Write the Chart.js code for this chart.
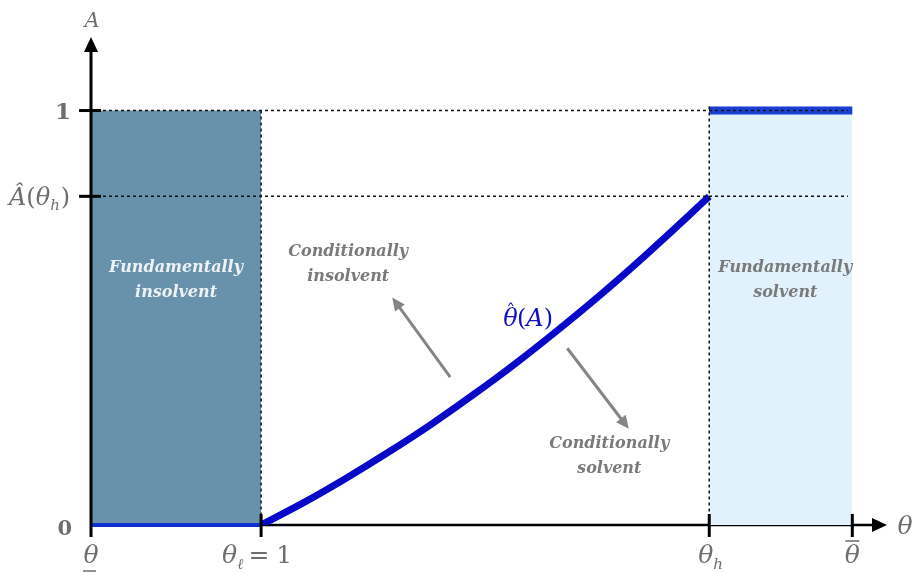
<!DOCTYPE html>
<html>
<head>
<meta charset="utf-8">
<script src="https://cdn.jsdelivr.net/npm/chart.js@4.4.1/dist/chart.umd.min.js"></script>
<style>
  html, body { margin: 0; padding: 0; background: #fff; }
  #wrap { width: 914px; height: 573px; }
</style>
</head>
<body>
<div id="wrap"><canvas id="chart"></canvas></div>
<script>
// key positions on the theta axis and the A axis
const thetaLow = 0;       // underline theta
const thetaL = 1;         // theta_l = 1
const thetaH = 3.635;     // theta_h
const thetaHigh = 4.476;  // overline theta
const aHat = 0.793;       // A-hat(theta_h)

// theta-hat(A) curve
const curveX = [1, 1.25, 1.5, 1.75, 2, 2.25, 2.5, 2.75, 3, 3.25, 3.5, 3.635];
const curveY = [0, 0.054, 0.113, 0.176, 0.243, 0.315, 0.391, 0.472, 0.557, 0.647, 0.741, 0.793];

const curvePts = curveX.map((x, i) => ({ x: x, y: curveY[i] }));

const gray = '#6e6e6e';
const serif = '"DejaVu Serif", "Liberation Serif", serif';

const annotations = {
    id: 'annotations',
    beforeDatasetsDraw(chart) {
        const ctx = chart.ctx;
        const xs = chart.scales.x, ys = chart.scales.y;
        ctx.save();
        ctx.strokeStyle = '#000';
        ctx.lineWidth = 2.5;
        ctx.beginPath();
        ctx.moveTo(xs.getPixelForValue(0), ys.getPixelForValue(0));
        ctx.lineTo(xs.right - 12, ys.getPixelForValue(0));
        ctx.stroke();
        ctx.restore();
    },
    afterDatasetsDraw(chart) {
        const ctx = chart.ctx;
        const xs = chart.scales.x, ys = chart.scales.y;
        const px = v => xs.getPixelForValue(v);
        const py = v => ys.getPixelForValue(v);
        ctx.save();

        // dotted guide lines
        ctx.strokeStyle = '#111';
        ctx.lineWidth = 1.5;
        ctx.setLineDash([3, 3]);
        const dash = (x1, y1, x2, y2) => {
            ctx.beginPath();
            ctx.moveTo(px(x1), py(y1));
            ctx.lineTo(px(x2), py(y2));
            ctx.stroke();
        };
        dash(0, 1, 4.45, 1);
        dash(0, aHat, 4.45, aHat);
        dash(thetaL, 1, thetaL, 0);
        dash(thetaH, 1.01, thetaH, 0);
        ctx.setLineDash([]);

        // y axis with arrow
        const x0 = px(0), y0 = py(0);
        ctx.strokeStyle = '#000';
        ctx.fillStyle = '#000';
        ctx.lineWidth = 3;
        ctx.beginPath();
        ctx.moveTo(x0, y0 + 12);
        ctx.lineTo(x0, ys.top + 10);
        ctx.stroke();
        ctx.beginPath();
        ctx.moveTo(x0, ys.top - 1);
        ctx.lineTo(x0 - 7, ys.top + 14);
        ctx.lineTo(x0 + 7, ys.top + 14);
        ctx.closePath();
        ctx.fill();

        // x axis arrow head
        ctx.beginPath();
        ctx.moveTo(xs.right, y0);
        ctx.lineTo(xs.right - 15, y0 - 7);
        ctx.lineTo(xs.right - 15, y0 + 7);
        ctx.closePath();
        ctx.fill();

        // tick marks
        ctx.lineWidth = 3;
        [1, aHat].forEach(v => {
            ctx.beginPath();
            ctx.moveTo(x0 - 12, py(v));
            ctx.lineTo(x0 + 10, py(v));
            ctx.stroke();
        });
        [thetaL, thetaH, thetaHigh].forEach(v => {
            ctx.beginPath();
            ctx.moveTo(px(v), y0 - 11);
            ctx.lineTo(px(v), y0 + 12);
            ctx.stroke();
        });

        // axis titles
        ctx.fillStyle = gray;
        ctx.textBaseline = 'alphabetic';
        ctx.textAlign = 'center';
        ctx.font = 'italic 21px ' + serif;
        ctx.fillText('A', x0 + 1, 27);
        ctx.font = 'italic 25px ' + serif;
        ctx.fillText('θ', xs.right + 18, y0 + 9);

        // y tick labels
        ctx.textAlign = 'right';
        ctx.font = 'bold 23px ' + serif;
        ctx.fillText('1', 71, py(1) + 8);
        ctx.font = 'bold 21px ' + serif;
        ctx.fillText('0', 72, y0 + 10);

        // A-hat(theta_h)
        ctx.textAlign = 'left';
        let tx = 9, ty = py(aHat) + 9;
        ctx.font = 'italic 24px ' + serif;
        ctx.fillText('Â', tx, ty);
        tx += ctx.measureText('Â').width;
        ctx.font = '24px ' + serif;
        ctx.fillText('(', tx, ty);
        tx += ctx.measureText('(').width;
        ctx.font = 'italic 24px ' + serif;
        ctx.fillText('θ', tx, ty);
        tx += ctx.measureText('θ').width;
        ctx.font = 'italic 15px ' + serif;
        ctx.fillText('h', tx, ty + 5);
        tx += ctx.measureText('h').width + 1;
        ctx.font = '24px ' + serif;
        ctx.fillText(')', tx, ty);

        // x tick labels
        const ly = y0 + 38;
        ctx.textAlign = 'center';
        ctx.font = 'italic 25px ' + serif;
        ctx.fillText('θ', px(thetaLow), ly);
        ctx.lineWidth = 1.5;
        ctx.strokeStyle = gray;
        ctx.beginPath();
        ctx.moveTo(px(thetaLow) - 8, ly + 8);
        ctx.lineTo(px(thetaLow) + 5, ly + 8);
        ctx.stroke();

        ctx.textAlign = 'left';
        tx = px(thetaL) - 39;
        ctx.font = 'italic 25px ' + serif;
        ctx.fillText('θ', tx, ly);
        tx += ctx.measureText('θ').width;
        ctx.font = 'italic 15px ' + serif;
        ctx.fillText('ℓ', tx, ly + 6);
        tx += ctx.measureText('ℓ').width + 5;
        ctx.font = '25px ' + serif;
        ctx.fillText('=', tx, ly);
        tx += ctx.measureText('=').width + 7;
        ctx.fillText('1', tx, ly);

        tx = px(thetaH) - 11;
        ctx.font = 'italic 25px ' + serif;
        ctx.fillText('θ', tx, ly);
        tx += ctx.measureText('θ').width;
        ctx.font = 'italic 15px ' + serif;
        ctx.fillText('h', tx, ly + 6);

        ctx.textAlign = 'center';
        ctx.font = 'italic 25px ' + serif;
        ctx.fillText('θ', px(thetaHigh), ly);
        ctx.beginPath();
        ctx.moveTo(px(thetaHigh) - 7, ly - 22);
        ctx.lineTo(px(thetaHigh) + 7, ly - 22);
        ctx.stroke();

        // gray arrows
        const arrow = (x1, y1, x2, y2) => {
            const ax = px(x1), ay = py(y1), bx = px(x2), by = py(y2);
            const ang = Math.atan2(by - ay, bx - ax);
            ctx.strokeStyle = '#858585';
            ctx.fillStyle = '#858585';
            ctx.lineWidth = 3;
            ctx.beginPath();
            ctx.moveTo(ax, ay);
            ctx.lineTo(bx - 8 * Math.cos(ang), by - 8 * Math.sin(ang));
            ctx.stroke();
            ctx.beginPath();
            ctx.moveTo(bx, by);
            ctx.lineTo(bx - 13 * Math.cos(ang) + 6 * Math.sin(ang), by - 13 * Math.sin(ang) - 6 * Math.cos(ang));
            ctx.lineTo(bx - 13 * Math.cos(ang) - 6 * Math.sin(ang), by - 13 * Math.sin(ang) + 6 * Math.cos(ang));
            ctx.closePath();
            ctx.fill();
        };
        arrow(2.112, 0.357, 1.771, 0.549);
        arrow(2.8, 0.4265, 3.162, 0.232);

        // region labels
        ctx.textAlign = 'center';
        ctx.font = 'bold italic 16px ' + serif;
        const label = (lines, x, y, color) => {
            ctx.fillStyle = color;
            lines.forEach((t, i) => ctx.fillText(t, px(x), py(y) + i * 25));
        };
        label(['Fundamentally', 'insolvent'], 0.5, 0.61, '#eef2f5');
        label(['Conditionally', 'insolvent'], 1.512, 0.648, '#7a7a7a');
        label(['Fundamentally', 'solvent'], 4.082, 0.61, '#7a7a7a');
        label(['Conditionally', 'solvent'], 3.047, 0.186, '#7a7a7a');

        // theta-hat(A) label
        ctx.fillStyle = '#1010c0';
        ctx.textAlign = 'left';
        tx = px(2.582) - 27;
        ty = py(0.499) + 8;
        ctx.font = 'italic 24px ' + serif;
        ctx.fillText('θ', tx, ty);
        ctx.font = '18px ' + serif;
        ctx.fillText('ˆ', tx + 3, ty - 8);
        tx += ctx.measureText('θ').width + 3;
        ctx.font = '24px ' + serif;
        ctx.fillText('(', tx, ty);
        tx += ctx.measureText('(').width;
        ctx.font = 'italic 24px ' + serif;
        ctx.fillText('A', tx, ty);
        tx += ctx.measureText('A').width;
        ctx.font = '24px ' + serif;
        ctx.fillText(')', tx, ty);

        ctx.restore();
    }
};

new Chart(document.getElementById('chart').getContext('2d'), {
    type: 'line',
    data: {
        datasets: [
            {
                // fundamentally insolvent region
                data: [{ x: thetaLow, y: 1 }, { x: thetaL, y: 1 }],
                fill: 'origin',
                backgroundColor: '#6891ab',
                borderWidth: 0,
                pointRadius: 0,
                order: 5
            },
            {
                // fundamentally solvent region
                data: [{ x: thetaH, y: 1.01 }, { x: thetaHigh, y: 1.01 }],
                fill: 'origin',
                backgroundColor: '#e1f2fd',
                borderWidth: 0,
                pointRadius: 0,
                order: 4
            },
            {
                // A = 0 on the left
                data: [{ x: thetaLow, y: 0 }, { x: thetaL, y: 0 }],
                borderColor: '#1030d0',
                borderWidth: 4,
                pointRadius: 0,
                fill: false,
                clip: false,
                order: 3
            },
            {
                // A = 1 on the right
                data: [{ x: thetaH, y: 1 }, { x: thetaHigh, y: 1 }],
                borderColor: '#1a3fd4',
                borderWidth: 8,
                pointRadius: 0,
                fill: false,
                order: 2
            },
            {
                // theta-hat(A)
                data: curvePts,
                borderColor: '#0808c8',
                borderWidth: 7,
                pointRadius: 0,
                cubicInterpolationMode: 'monotone',
                fill: false,
                order: 1
            }
        ]
    },
    options: {
        responsive: true,
        maintainAspectRatio: false,
        animation: false,
        layout: { padding: { left: 91, right: 27, top: 38, bottom: 48 } },
        plugins: { legend: { display: false }, tooltip: { enabled: false } },
        scales: {
            x: { type: 'linear', min: 0, max: 4.68, display: false },
            y: { type: 'linear', min: 0, max: 1.175, display: false }
        }
    },
    plugins: [annotations]
});
</script>
</body>
</html>
